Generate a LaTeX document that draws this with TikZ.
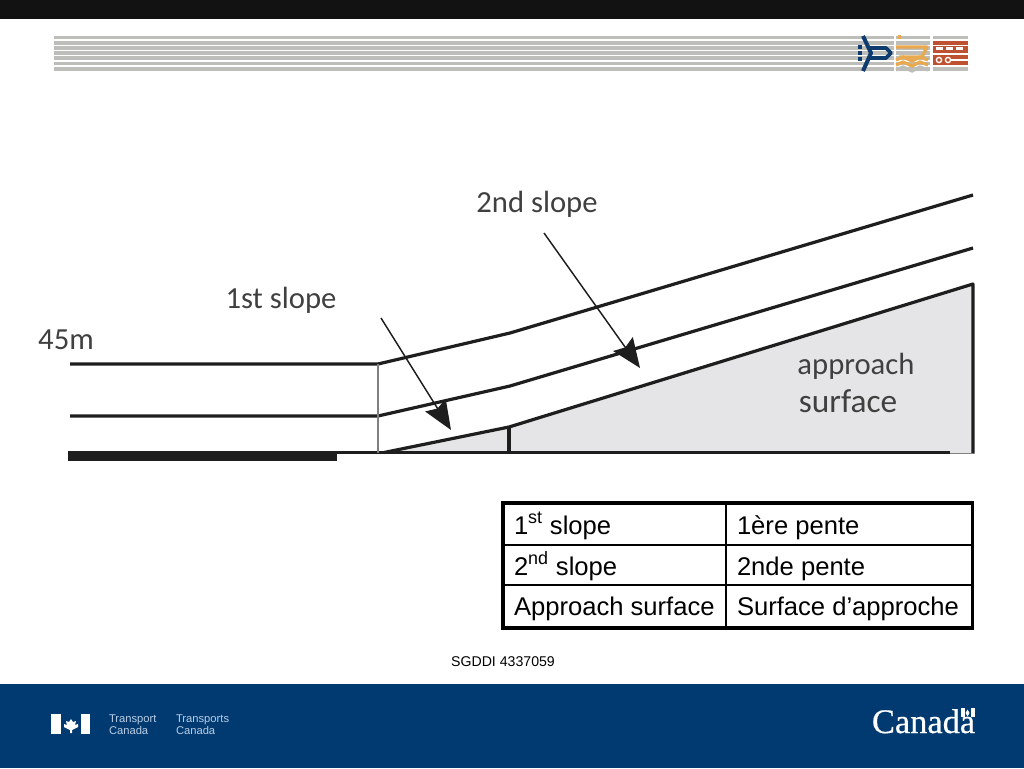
\documentclass[tikz,border=0pt]{standalone}
\usepackage{fontspec}
\setmainfont{Liberation Sans}
\newfontfamily\handfont{Carlito}
\newfontfamily\wordfont[FakeBold=0.5]{Liberation Serif}
\usetikzlibrary{arrows.meta}
\definecolor{footblue}{HTML}{003A70}
\definecolor{stripegray}{HTML}{BDBDB9}
\definecolor{planeblue}{HTML}{0F3C6E}
\definecolor{boatorange}{HTML}{E9A94F}
\definecolor{brickred}{HTML}{BE5230}
\definecolor{wedgegray}{HTML}{E5E5E7}
\definecolor{inkgray}{HTML}{1E1E1E}
\definecolor{footlabel}{HTML}{B9CDE6}
\begin{document}
\begin{tikzpicture}[x=0.75pt, y=-0.75pt, every node/.style={inner sep=0pt, outer sep=0pt}]
\useasboundingbox (0,0) rectangle (1024,768);
\tikzset{slopeline/.style={draw=inkgray, line width=2.4pt, line join=round}}
\tikzset{pointer/.style={-{Stealth[length=22pt, width=18pt, inset=3pt]}, draw=inkgray, line width=1.1pt}}
\tikzset{handlabel/.style={text=inkgray!85, font=\handfont\fontsize{23}{27}\selectfont, anchor=base}}
\tikzset{celltext/.style={anchor=base west, font=\fontsize{19.2}{22}\selectfont}}
\tikzset{footlabel/.style={anchor=base west, text=footlabel, font=\fontsize{8.4}{10}\selectfont}}

% bars
\fill [black!93] (0,0) rectangle (1024,18.5);
\fill [footblue] (0,684) rectangle (1024,768);

% header stripes and logos
\foreach \y in {37.5,42.7,47.9,53,58.2,63.4,68.6}
  \fill [stripegray] (54,\y-1.9) rectangle (968,\y+1.9);
\fill [white] (893.5,34) rectangle (896,73);
\fill [white] (929.5,34) rectangle (932.5,73);
\draw [planeblue, line width=3pt, line join=round] (863,36) -- (871,53) -- (863,71);
\draw [planeblue, line width=2.8pt, line join=round] (868,48) -- (886,48) -- (891,53) -- (886,58) -- (868,58);
\foreach \y in {47,53,59}
  \fill [planeblue] (858,\y-1.6) rectangle (862,\y+1.6);
\fill [boatorange] (898,35) rectangle (901,39);
\draw [boatorange, line width=2.4pt, line join=round] (896,47) -- (927,47) -- (922,57) -- (899,57);
\foreach \y/\c in {60/boatorange,65/boatorange,70/stripegray}
  \draw [\c, line width=2.4pt] (896,\y) -- (903,\y-3) -- (912,\y+1) -- (920,\y-3) -- (928,\y);
\fill [brickred] (933,41) rectangle (968,65);
\foreach \x in {936,946,956}
  \fill [white] (\x,47) rectangle (\x+7,49.5);
\fill [white] (933,45) rectangle (968,46);
\fill [white] (933,53) rectangle (968,54.5);
\fill [white] (951,59) rectangle (968,60.5);
\foreach \x in {939,948}
  \draw [white, line width=1pt] (\x,60) circle (2.6);

% slopes
\coordinate (topa) at (70,364);
\coordinate (topb) at (378,364);
\coordinate (topc) at (510,333);
\coordinate (topd) at (973,195);
\coordinate (mida) at (70,416);
\coordinate (midb) at (378,416);
\coordinate (midc) at (510,386);
\coordinate (midd) at (973,248);
\coordinate (grda) at (68,452.5);
\coordinate (grdb) at (378,452.5);
\coordinate (grdc) at (509,452.5);
\coordinate (grdd) at (950,452.5);
\coordinate (rwya) at (68,456);
\coordinate (rwyb) at (337,456);
\coordinate (wdga) at (384,452.5);
\coordinate (wdgb) at (509,427);
\coordinate (wdgc) at (973,284);
\coordinate (wdgd) at (973,453.5);
\coordinate (wdge) at (950,453.5);

\fill [wedgegray] (wdga) -- (wdgb) -- (wdgc) -- (wdgd) -- (wdge) -- (grdd) -- cycle;
\draw [slopeline] (topa) -- (topb) -- (topc) -- (topd);
\draw [slopeline] (mida) -- (midb) -- (midc) -- (midd);
\draw [slopeline] (grda) -- (grdd);
\draw [draw=inkgray, line width=7pt] (rwya) -- (rwyb);
\draw [draw=gray, line width=0.8pt] (topb) -- (grdb);
\draw [slopeline] (wdga) -- (wdgb) -- (wdgc) -- (wdgd);
\draw [draw=gray, line width=1.2pt] (wdgd) -- (wdge);
\draw [slopeline] (wdgb) -- (grdc);

% labels
\node [handlabel] (hgt) at (66,349) {45m};
\node [handlabel] (first) at (281,308) {1st slope};
\node [handlabel] (second) at (537,212) {2nd slope};
\node [handlabel] (appr) at (856,374) {approach};
\node [handlabel, font=\handfont\fontsize{25}{27}\selectfont] (surf) at (848,412) {surface};

\coordinate (firsta) at (381,318);
\coordinate (firstb) at (451,430);
\coordinate (seconda) at (544,233);
\coordinate (secondb) at (640,368);
\draw [pointer] (firsta) -- (firstb);
\draw [pointer] (seconda) -- (secondb);

% table
\node [draw, line width=2.6pt, minimum width=352pt, minimum height=93.75pt, anchor=north west] (tbl) at (503,503) {};
\coordinate (cola) at (726,503);
\coordinate (colb) at (726,628);
\coordinate (rowa) at (503,545);
\coordinate (rowb) at (973,545);
\coordinate (rowc) at (503,585);
\coordinate (rowd) at (973,585);
\draw [line width=0.8pt] (cola) -- (colb);
\draw [line width=0.8pt] (rowa) -- (rowb);
\draw [line width=0.8pt] (rowc) -- (rowd);
\node [celltext] (ca) at (514,534) {1\textsuperscript{st} slope};
\node [celltext] (cb) at (737,534) {1ère pente};
\node [celltext] (cc) at (514,575) {2\textsuperscript{nd} slope};
\node [celltext] (cd) at (737,575) {2nde pente};
\node [celltext] (ce) at (514,615) {Approach surface};
\node [celltext] (cf) at (737,615) {Surface d’approche};
\node [anchor=base, font=\fontsize{10.6}{12}\selectfont] (ref) at (503,666) {SGDDI 4337059};

% footer
\fill [white] (51,714) rectangle (61,734);
\fill [white] (81,714) rectangle (90,734);
\fill [white] (71,719) -- (73,722) -- (76,721) -- (75,725) -- (78,724) -- (78,727) -- (72,730) -- (72,733) -- (70,733) -- (70,730) -- (64,727) -- (64,724) -- (67,725) -- (66,721) -- (69,722) -- cycle;
\node [footlabel] (tpa) at (109,722) {Transport};
\node [footlabel] (tpb) at (109,734) {Canada};
\node [footlabel] (tpc) at (176,722) {Transports};
\node [footlabel] (tpd) at (176,734) {Canada};
\node [anchor=base west, text=white, font=\wordfont\fontsize{25.8}{30}\selectfont] (word) at (872,733) {Canada};
\fill [white] (961,708) rectangle (964.5,717);
\fill [white] (970.5,708) rectangle (974.5,717);
\fill [white] (967.5,709.5) -- (969.5,713) -- (967.5,716.5) -- (965.5,713) -- cycle;
\end{tikzpicture}
\end{document}
